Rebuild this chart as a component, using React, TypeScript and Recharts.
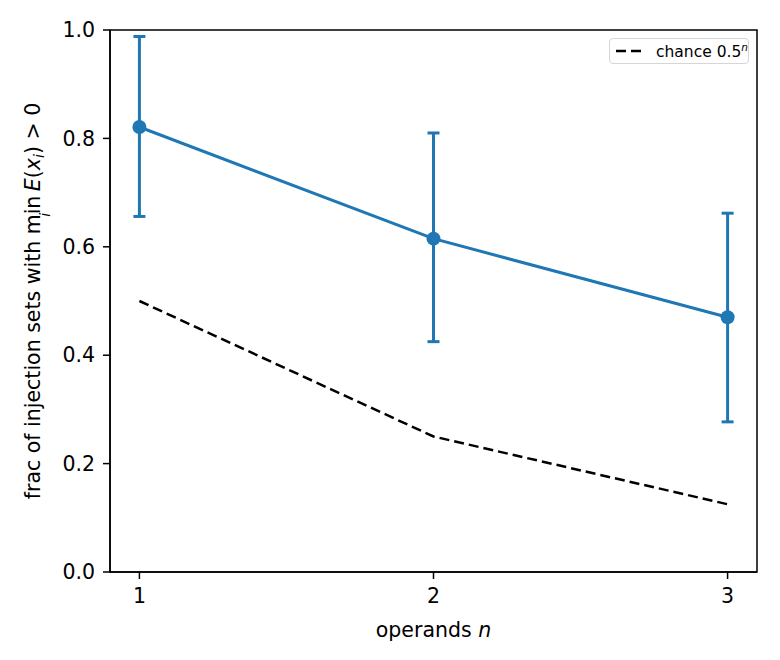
import React from "react";
import {
  LineChart,
  Line,
  XAxis,
  YAxis,
  ErrorBar,
  ReferenceArea,
  Legend,
  Label,
} from "recharts";

const operands = [1, 2, 3];
const meanFrac = [0.821, 0.615, 0.47];
const lowerFrac = [0.656, 0.425, 0.277];
const upperFrac = [0.988, 0.81, 0.662];
const chance = [0.5, 0.25, 0.125];
const xTicks = [1, 2, 3];
const yTicks = [0, 0.2, 0.4, 0.6, 0.8, 1.0];

const data = operands.map((n, i) => ({
  n,
  mean: meanFrac[i],
  err: [meanFrac[i] - lowerFrac[i], upperFrac[i] - meanFrac[i]],
  chance: chance[i],
}));

const FONT = "DejaVu Sans";
const BLUE = "#1f77b4";
const FS = 20.5;

const YLabel = () => (
  <text
    transform="rotate(-90)"
    x={-301}
    y={40}
    textAnchor="middle"
    fontFamily={FONT}
    fontSize={FS}
    fill="#000"
  >
    frac of injection sets with min
    <tspan dx={-21} dy={10} fontSize={14.3} fontStyle="italic">
      i
    </tspan>
    <tspan dx={21.5} dy={-10} fontStyle="italic">
      E
    </tspan>
    <tspan>(</tspan>
    <tspan fontStyle="italic">x</tspan>
    <tspan dy={4} fontSize={14.3} fontStyle="italic">
      i
    </tspan>
    <tspan dy={-4}>) &gt; 0</tspan>
  </text>
);

const XLabel = () => (
  <text
    x={433.5}
    y={637}
    textAnchor="middle"
    fontFamily={FONT}
    fontSize={FS}
    fill="#000"
  >
    operands <tspan fontStyle="italic">n</tspan>
  </text>
);

const LegendBox = () => (
  <div
    style={{
      boxSizing: "border-box",
      width: 140,
      height: 26,
      border: "1px solid #d6d6d6",
      borderRadius: 4,
      background: "rgba(255,255,255,0.8)",
      display: "flex",
      alignItems: "center",
      fontFamily: FONT,
      fontSize: 15.5,
      color: "#000",
      whiteSpace: "nowrap",
    }}
  >
    <svg width={43} height={24} style={{ flex: "none" }}>
      <line
        x1={6}
        y1={12}
        x2={36}
        y2={12}
        stroke="#000"
        strokeWidth={2.5}
        strokeDasharray="10 5"
      />
    </svg>
    <span style={{ marginLeft: 3 }}>
      chance 0.5
      <sup style={{ fontStyle: "italic", fontSize: 10.5, verticalAlign: "6px" }}>n</sup>
    </span>
  </div>
);

export default function App() {
  return (
    <div
      style={{
        position: "absolute",
        left: 0,
        top: 0,
        width: 780,
        height: 660,
        background: "#fff",
      }}
    >
      <LineChart
        width={780}
        height={660}
        data={data}
        margin={{ top: 30, right: 23, left: 0, bottom: 28 }}
      >
        <XAxis
          dataKey="n"
          type="number"
          domain={[0.9, 3.1]}
          ticks={xTicks}
          height={60}
          tickSize={7}
          tickMargin={9}
          axisLine={{ stroke: "#000", strokeWidth: 1.5 }}
          tickLine={{ stroke: "#000", strokeWidth: 1.5 }}
          tick={{ fill: "#000", fontFamily: FONT, fontSize: FS }}
          interval={0}
        >
          <Label content={<XLabel />} />
        </XAxis>
        <YAxis
          type="number"
          domain={[0, 1]}
          ticks={yTicks}
          width={110}
          tickSize={7}
          tickMargin={8}
          tickFormatter={(v: number) => v.toFixed(1)}
          axisLine={{ stroke: "#000", strokeWidth: 1.5 }}
          tickLine={{ stroke: "#000", strokeWidth: 1.5 }}
          tick={{ fill: "#000", fontFamily: FONT, fontSize: FS }}
          interval={0}
        >
          <Label content={<YLabel />} />
        </YAxis>
        <ReferenceArea
          x1={0.9}
          x2={3.1}
          y1={0}
          y2={1}
          fill="none"
          fillOpacity={0}
          stroke="#000"
          strokeWidth={1.5}
        />
        <Line
          dataKey="chance"
          type="linear"
          stroke="#000"
          strokeWidth={2.5}
          strokeDasharray="10 5"
          dot={false}
          activeDot={false}
          isAnimationActive={false}
          legendType="none"
        />
        <Line
          dataKey="mean"
          type="linear"
          stroke={BLUE}
          strokeWidth={3}
          dot={{ r: 7, fill: BLUE, stroke: BLUE, strokeWidth: 0 }}
          activeDot={false}
          isAnimationActive={false}
          legendType="none"
        >
          <ErrorBar
            dataKey="err"
            direction="y"
            width={6}
            stroke={BLUE}
            strokeWidth={3}
            isAnimationActive={false}
          />
        </Line>
        <Legend
          layout="vertical"
          align="center"
          verticalAlign="middle"
          content={<LegendBox />}
          wrapperStyle={{ top: 38, left: 609, width: 140, height: 26 }}
        />
      </LineChart>
    </div>
  );
}
